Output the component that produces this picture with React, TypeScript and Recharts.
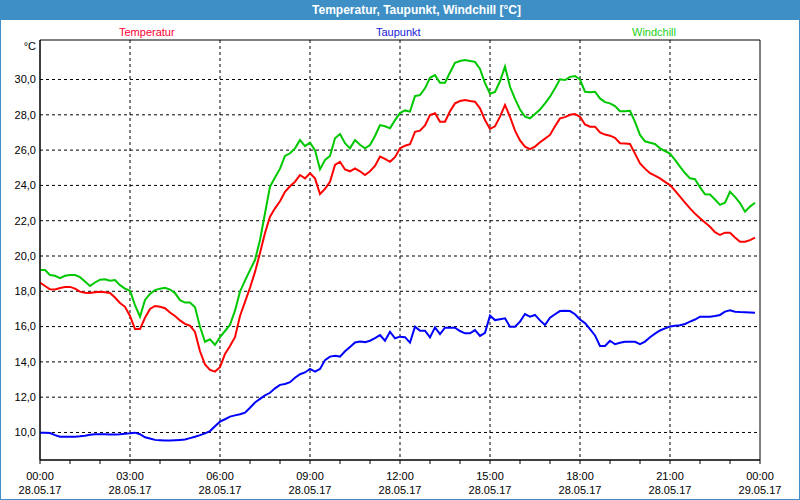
import React from 'react';
import { LineChart, Line, XAxis, YAxis, CartesianGrid, ReferenceArea } from 'recharts';

// ---- data (10-minute steps starting 28.05.17 00:00) ----
const STEP_MIN = 10;

const temperatur = [
  18.49, 18.3, 18.11, 18.1, 18.19, 18.24, 18.25, 18.15, 17.98, 17.92, 17.9, 17.95,
  17.98, 17.95, 17.9, 17.65, 17.34, 17.12, 16.6, 15.86, 15.86, 16.5, 17.0, 17.17,
  17.12, 17.04, 16.8, 16.6, 16.35, 16.15, 16.05, 15.7, 14.6, 13.85, 13.55, 13.45,
  13.7, 14.45, 14.9, 15.4, 16.6, 17.4, 18.2, 19.1, 20.17, 21.3, 22.23, 22.7,
  23.1, 23.64, 23.95, 24.21, 24.59, 24.4, 24.69, 24.4, 23.51, 23.8, 24.2, 25.16,
  25.34, 24.9, 24.8, 24.97, 24.8, 24.59, 24.8, 25.1, 25.63, 25.5, 25.34, 25.6,
  26.1, 26.25, 26.33, 27.04, 27.1, 27.4, 27.99, 28.09, 27.61, 27.61, 28.2, 28.65,
  28.78, 28.84, 28.78, 28.74, 28.37, 27.7, 27.2, 27.35, 27.9, 28.56, 27.89, 27.1,
  26.55, 26.2, 26.05, 26.2, 26.45, 26.65, 26.86, 27.35, 27.8, 27.87, 28.0, 28.05,
  27.89, 27.45, 27.33, 27.33, 27.0, 26.88, 26.82, 26.7, 26.39, 26.37, 26.35, 25.8,
  25.25, 24.95, 24.69, 24.55, 24.4, 24.2, 24.02, 23.7, 23.36, 23.03, 22.7, 22.4,
  22.14, 21.9, 21.66, 21.35, 21.19, 21.32, 21.32, 21.05, 20.81, 20.81, 20.9, 21.04,
];

const taupunkt = [
  9.99, 9.99, 9.97, 9.85, 9.76, 9.76, 9.76, 9.76, 9.78, 9.82, 9.87, 9.9,
  9.9, 9.9, 9.88, 9.88, 9.9, 9.93, 9.95, 9.99, 9.9, 9.73, 9.66, 9.58,
  9.56, 9.54, 9.54, 9.56, 9.58, 9.6, 9.68, 9.76, 9.85, 9.95, 10.08, 10.35,
  10.61, 10.75, 10.9, 10.97, 11.03, 11.12, 11.4, 11.7, 11.9, 12.1, 12.25, 12.5,
  12.7, 12.75, 12.85, 13.1, 13.3, 13.4, 13.6, 13.45, 13.6, 14.1, 14.3, 14.35,
  14.3, 14.6, 14.85, 15.1, 15.15, 15.12, 15.2, 15.35, 15.52, 15.2, 15.71, 15.34,
  15.43, 15.4, 15.09, 15.99, 15.77, 15.77, 15.39, 15.96, 15.58, 15.94, 15.94, 15.94,
  15.75, 15.62, 15.62, 15.8, 15.47, 15.65, 16.62, 16.37, 16.42, 16.47, 15.99, 15.99,
  16.28, 16.71, 16.56, 16.66, 16.35, 16.09, 16.5, 16.7, 16.88, 16.9, 16.88, 16.7,
  16.4, 16.2, 15.85, 15.5, 14.9, 14.9, 15.2, 15.0, 15.08, 15.14, 15.14, 15.14,
  15.01, 15.15, 15.4, 15.6, 15.78, 15.9, 16.0, 16.05, 16.08, 16.15, 16.28, 16.4,
  16.56, 16.56, 16.56, 16.6, 16.66, 16.85, 16.92, 16.84, 16.82, 16.81, 16.8, 16.79,
];

const windchill = [
  19.21, 19.21, 18.92, 18.88, 18.74, 18.88, 18.92, 18.92, 18.8, 18.55, 18.3, 18.5,
  18.66, 18.68, 18.6, 18.64, 18.35, 18.15, 18.03, 17.22, 16.56, 17.51, 17.85, 18.07,
  18.15, 18.2, 18.1, 17.9, 17.5, 17.36, 17.36, 17.1, 15.99, 15.14, 15.28, 14.96,
  15.4, 15.75, 16.1, 16.9, 17.98, 18.6, 19.2, 19.77, 20.91, 22.42, 23.93, 24.45,
  24.95, 25.67, 25.82, 26.1, 26.57, 26.23, 26.42, 26.0, 24.91, 25.44, 25.67, 26.67,
  26.91, 26.39, 26.1, 26.57, 26.3, 26.1, 26.29, 26.8, 27.42, 27.35, 27.24, 27.7,
  28.1, 28.25, 28.18, 29.06, 29.12, 29.5, 30.1, 30.25, 29.82, 29.82, 30.4, 30.95,
  31.05, 31.1, 31.05, 31.0, 30.6, 29.8, 29.2, 29.3, 29.9, 30.73, 29.59, 28.9,
  28.3, 27.9, 27.8, 28.05, 28.3, 28.65, 29.03, 29.5, 30.01, 29.97, 30.15, 30.2,
  30.0, 29.31, 29.28, 29.31, 28.93, 28.72, 28.65, 28.5, 28.2, 28.2, 28.23, 27.6,
  26.86, 26.5, 26.42, 26.35, 26.1, 25.95, 25.8, 25.45, 25.06, 24.7, 24.4, 24.35,
  23.9, 23.5, 23.48, 23.2, 22.9, 23.02, 23.64, 23.35, 23.0, 22.51, 22.8, 23.02,
];

const majorTicks = [0, 180, 360, 540, 720, 900, 1080, 1260, 1440];
const hourTicks = [0, 60, 120, 180, 240, 300, 360, 420, 480, 540, 600, 660, 720, 780, 840, 900, 960, 1020, 1080, 1140, 1200, 1260, 1320, 1380, 1440];
const timeLabels = ['00:00', '03:00', '06:00', '09:00', '12:00', '15:00', '18:00', '21:00', '00:00'];
const dateLabels = ['28.05.17', '28.05.17', '28.05.17', '28.05.17', '28.05.17', '28.05.17', '28.05.17', '28.05.17', '29.05.17'];
const yTicks = [10, 12, 14, 16, 18, 20, 22, 24, 26, 28, 30];
const seriesNames = ['Temperatur', 'Taupunkt', 'Windchill'];
const titleText = 'Temperatur, Taupunkt, Windchill [°C]';
const unitText = '°C';

const Y_MIN = 8.44;
const Y_MAX = 32.24;
const X_MAX = 1440;

const data = temperatur.map((v, i) => ({
  t: i * STEP_MIN,
  temperatur: v,
  taupunkt: taupunkt[i],
  windchill: windchill[i],
}));

const LINE_COLORS = ['#ff0000', '#0000ff', '#00c800'];
const LEGEND_COLORS = ['#ff0033', '#2020d8', '#20d020'];
const LEGEND_X = [119, 376, 632];
const FRAME_BLUE = '#3d8fc6';
const FONT = '"Liberation Sans", Arial, sans-serif';

const XTick = (props: any) => {
  const { x, y, payload } = props;
  const idx = majorTicks.indexOf(payload.value);
  if (idx < 0) return null;
  return (
    <g>
      <text x={x} y={y + 13.5} textAnchor="middle" fontSize={11} fill="#000" fontFamily={FONT}>
        {timeLabels[idx]}
      </text>
      <text x={x} y={y + 28} textAnchor="middle" fontSize={11} fill="#000" fontFamily={FONT}>
        {dateLabels[idx]}
      </text>
    </g>
  );
};

const fmtY = (v: number) => v.toFixed(1).replace('.', ',');

export default function App() {
  return (
    <div
      style={{
        position: 'absolute',
        left: 0,
        top: 0,
        width: 800,
        height: 500,
        background: '#ffffff',
        fontFamily: FONT,
        overflow: 'hidden',
      }}
    >
      <LineChart width={800} height={500} data={data} margin={{ top: 40, right: 40, left: 0, bottom: 0 }}>
        <CartesianGrid
          stroke="#000"
          strokeDasharray="3 3"
          verticalValues={majorTicks.slice(1, -1)}
          horizontalValues={yTicks}
        />
        <XAxis
          dataKey="t"
          type="number"
          domain={[0, X_MAX]}
          ticks={hourTicks}
          interval={0}
          height={40}
          tickSize={4}
          tickLine={{ stroke: '#000' }}
          axisLine={{ stroke: '#000' }}
          tick={<XTick />}
          allowDataOverflow
        />
        <YAxis
          type="number"
          domain={[Y_MIN, Y_MAX]}
          ticks={yTicks}
          interval={0}
          width={40}
          tickSize={0}
          tickMargin={4}
          tickLine={false}
          axisLine={{ stroke: '#000' }}
          tick={{ fill: '#000', fontSize: 11, fontFamily: FONT }}
          tickFormatter={fmtY}
          allowDataOverflow
        />
        <ReferenceArea x1={0} x2={X_MAX} y1={Y_MIN} y2={Y_MAX} fill="none" stroke="#000" strokeWidth={1} />
        <Line type="linear" dataKey="temperatur" name={seriesNames[0]} stroke={LINE_COLORS[0]} strokeWidth={2} dot={false} isAnimationActive={false} />
        <Line type="linear" dataKey="taupunkt" name={seriesNames[1]} stroke={LINE_COLORS[1]} strokeWidth={2} dot={false} isAnimationActive={false} />
        <Line type="linear" dataKey="windchill" name={seriesNames[2]} stroke={LINE_COLORS[2]} strokeWidth={2} dot={false} isAnimationActive={false} />
      </LineChart>
      <svg
        width={800}
        height={500}
        style={{ position: 'absolute', left: 0, top: 0, pointerEvents: 'none' }}
      >
        <rect x={0} y={0} width={800} height={20} fill={FRAME_BLUE} />
        <rect x={0} y={0} width={1} height={500} fill={FRAME_BLUE} />
        <rect x={799} y={0} width={1} height={500} fill={FRAME_BLUE} />
        <rect x={0} y={499} width={800} height={1} fill={FRAME_BLUE} />
        <text x={416.5} y={14} textAnchor="middle" fontSize={12} fontWeight="bold" fill="#fff" fontFamily={FONT}>
          {titleText}
        </text>
        {seriesNames.map((n, i) => (
          <text key={n} x={LEGEND_X[i]} y={36} fontSize={11} fill={LEGEND_COLORS[i]} fontFamily={FONT}>
            {n}
          </text>
        ))}
        <text x={36} y={50} textAnchor="end" fontSize={11} fill="#000" fontFamily={FONT}>
          {unitText}
        </text>
      </svg>
    </div>
  );
}
